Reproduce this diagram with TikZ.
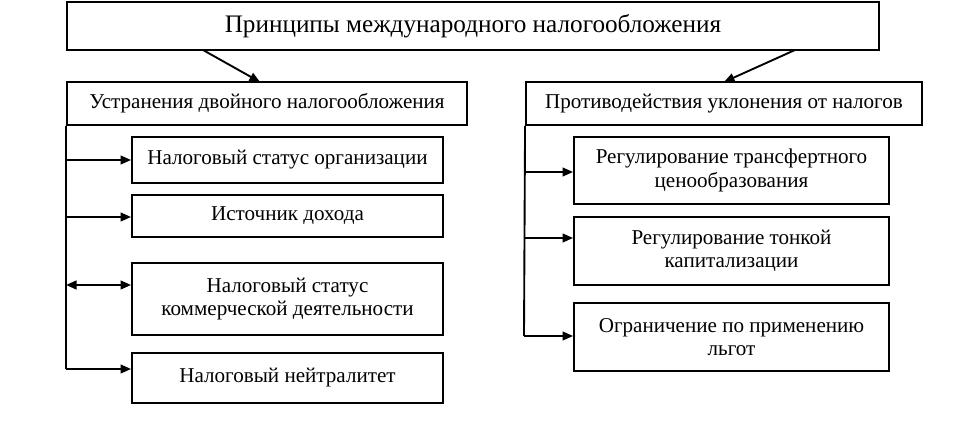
\documentclass[tikz,border=0pt]{standalone}
\usepackage{fontspec}
\setmainfont{Liberation Serif}
\usetikzlibrary{arrows.meta}
\begin{document}
\begin{tikzpicture}[x=0.03cm,y=-0.03cm,line width=1.6pt,>={Triangle[length=9pt,width=7.5pt]},
  box/.style={draw,align=center,inner sep=0pt,font=\fontsize{18}{20}\selectfont}]
\useasboundingbox (0,0) rectangle (974,429);
\node[box,minimum width=24.36cm,minimum height=1.44cm,font=\fontsize{21.5}{24}\selectfont](T)at(473,26){Принципы международного налогообложения};
\node[box,minimum width=12cm,minimum height=1.29cm](LH)at(267,103.5){Устранения двойного налогообложения};
\node[box,minimum width=11.88cm,minimum height=1.29cm](RH)at(724,103.5){Противодействия уклонения от налогов};
\draw[->](203,50)--(260,82);
\draw[->](795,50)--(724,82);
% left column
\node[box,minimum width=9.33cm,minimum height=1.38cm](L1)at(287.5,160){Налоговый статус организации};
\node[box,minimum width=9.33cm,minimum height=1.26cm](L2)at(287.5,216){Источник дохода};
\node[box,minimum width=9.33cm,minimum height=2.16cm](L3)at(287.5,299){Налоговый статус\\коммерческой деятельности};
\node[box,minimum width=9.33cm,minimum height=1.5cm](L4)at(287.5,378){Налоговый нейтралитет};
\coordinate(tL1)at(66,160);
\coordinate(tL2)at(66,217);
\coordinate(tL3)at(66,285);
\coordinate(tL4)at(66,369);
\draw(LH.south west)--(tL4);
\draw[->](tL1)--(tL1-|L1.west);
\draw[->](tL2)--(tL2-|L2.west);
\draw[<->](tL3)--(tL3-|L3.west);
\draw[->](tL4)--(tL4-|L4.west);
% right column
\node[box,minimum width=9.45cm,minimum height=2.01cm](R1)at(731.5,170.5){Регулирование трансфертного\\ценообразования};
\node[box,minimum width=9.45cm,minimum height=2.04cm](R2)at(731.5,251){Регулирование тонкой\\капитализации};
\node[box,minimum width=9.45cm,minimum height=2.04cm](R3)at(731.5,337){Ограничение по применению\\льгот};
\coordinate(tR1)at(524,172);
\coordinate(tR2)at(524,238);
\coordinate(tR3)at(524,336);
\draw(RH.south west)--(tR3);
\draw[->](tR1)--(tR1-|R1.west);
\draw[->](tR2)--(tR2-|R2.west);
\draw[->](tR3)--(tR3-|R3.west);
\end{tikzpicture}
\end{document}
